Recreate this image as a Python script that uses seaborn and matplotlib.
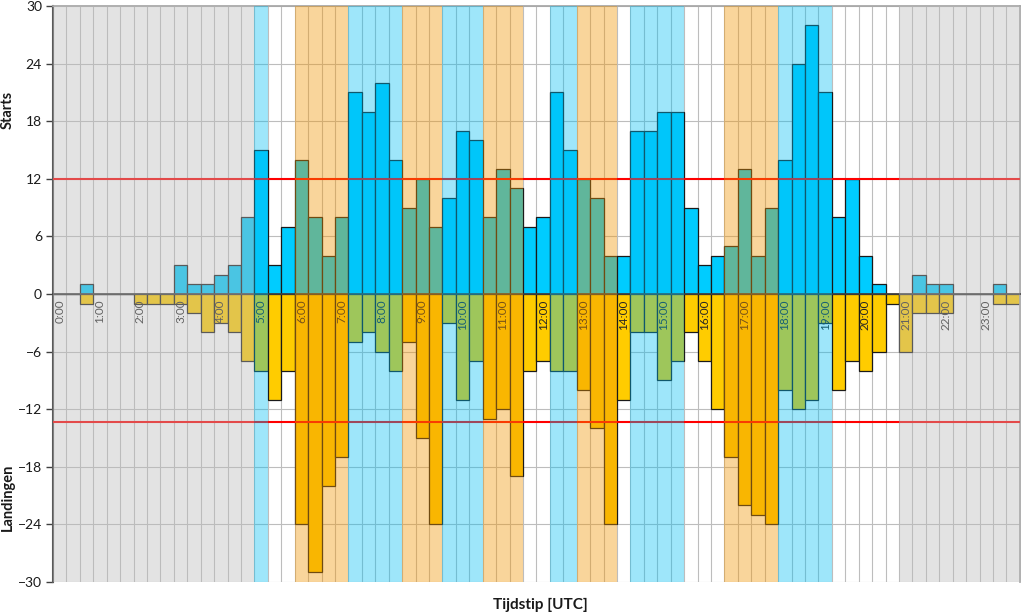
import matplotlib
matplotlib.use("Agg")
import matplotlib.pyplot as plt
import numpy as np
import seaborn as sns

sns.set_theme(style="whitegrid")
plt.rcParams['font.family'] = ['Lato', 'DejaVu Sans']

# 20-minute slots over the day (slot 0 = 0:00-0:20)
slots = np.arange(72)
starts = [0, 0, 1, 0, 0, 0, 0, 0, 0, 3, 1, 1, 2, 3, 8, 15, 3, 7,
          14, 8, 4, 8, 21, 19, 22, 14, 9, 12, 7, 10, 17, 16, 8, 13, 11, 7,
          8, 21, 15, 12, 10, 4, 4, 17, 17, 19, 19, 9, 3, 4, 5, 13, 4, 9,
          14, 24, 28, 21, 8, 12, 4, 1, 0, 0, 2, 1, 1, 0, 0, 0, 1, 0]
landings = [0, 0, -1, 0, 0, 0, -1, -1, -1, -1, -2, -4, -3, -4, -7, -8, -11, -8,
            -24, -29, -20, -17, -5, -4, -6, -8, -5, -15, -24, -3, -11, -7, -13, -12, -19, -8,
            -7, -8, -8, -10, -14, -24, -11, -4, -4, -9, -7, -4, -7, -12, -17, -22, -23, -24,
            -10, -12, -11, -3, -10, -7, -8, -6, -1, -6, -2, -2, -2, 0, 0, 0, -1, -1]
hour_labels = [f"{h}:00" for h in range(24)]

start_cap = 12
landing_cap = -13.3

# periods (start, end) in hours
night_periods = [(0.0, 5.0), (21.0, 24.0)]
start_peaks = [(5.0, 5 + 1 / 3), (7 + 1 / 3, 8 + 2 / 3), (9 + 2 / 3, 10 + 2 / 3),
               (12 + 1 / 3, 13.0), (14 + 1 / 3, 15 + 2 / 3), (18.0, 19 + 1 / 3)]
landing_peaks = [(6.0, 7 + 1 / 3), (8 + 2 / 3, 9 + 2 / 3), (10 + 2 / 3, 11 + 2 / 3),
                 (13.0, 14.0), (16 + 2 / 3, 18.0)]


def hour_to_slot(h):
    return h * 3 - 0.5


fig = plt.figure(figsize=(10.24, 6.16), dpi=100)
ax = fig.add_axes([0.0518, 0.0552, 0.9442, 0.9351])

sns.barplot(x=slots, y=starts, width=1, color='#00CCFF', saturation=1,
            edgecolor='#1a1a1a', linewidth=0.9, ax=ax, zorder=2)
sns.barplot(x=slots, y=landings, width=1, color='#FFCC00', saturation=1,
            edgecolor='#1a1a1a', linewidth=0.9, ax=ax, zorder=2)

for i, lab in enumerate(hour_labels):
    ax.text(i * 3, -0.55, lab, rotation=90, ha='center', va='top',
            fontsize=8.5, color='#262626', zorder=3)

ax.axhline(start_cap, color='#FF0000', lw=1.5, zorder=4)
ax.axhline(landing_cap, color='#FF0000', lw=1.5, zorder=4)

# translucent period bands drawn over everything
for a, b in night_periods:
    ax.axvspan(hour_to_slot(a), hour_to_slot(b), color='#BBBBBB', alpha=0.4, lw=0, zorder=5)
for a, b in start_peaks:
    ax.axvspan(hour_to_slot(a), hour_to_slot(b), color='#00BEF2', alpha=0.38, lw=0, zorder=5)
for a, b in landing_peaks:
    ax.axvspan(hour_to_slot(a), hour_to_slot(b), color='#F29605', alpha=0.4, lw=0, zorder=5)

ax.set_xlim(-0.5, 71.5)
ax.set_ylim(-30, 30)
ax.set_yticks(np.arange(-30, 31, 6))
ax.set_xticks(np.arange(-0.5, 72, 1))
ax.set_xticklabels([])
ax.set_xlabel('')
ax.set_ylabel('')
ax.set_axisbelow(True)
ax.grid(True, color='#BDBDBD', lw=0.8)

ax.spines['bottom'].set_position(('data', 0))
ax.spines['bottom'].set_color('#404040')
ax.spines['bottom'].set_zorder(3)
ax.spines['left'].set_color('#5a5a5a')
ax.spines['left'].set_linewidth(1.5)
ax.spines['top'].set_color('#A6A6A6')
ax.spines['right'].set_color('#A6A6A6')
ax.tick_params(axis='x', direction='inout', length=5, color='#404040', width=0.8)
ax.tick_params(axis='y', direction='out', length=5, color='#404040', width=1,
               labelsize=10, labelcolor='#1a1a1a', pad=3, left=True)

fig.text(8 / 1024, 1 - 110 / 616, 'Starts', rotation=90, ha='center', va='center',
         fontsize=10.5, fontweight='bold', color='#1a1a1a')
fig.text(8 / 1024, 1 - 497 / 616, 'Landingen', rotation=90, ha='center', va='center',
         fontsize=10.5, fontweight='bold', color='#1a1a1a')
fig.text(540 / 1024, 1 - 605 / 616, 'Tijdstip [UTC]', ha='center', va='center',
         fontsize=11, fontweight='bold', color='#1a1a1a')

fig.savefig('out.png', dpi=100)
